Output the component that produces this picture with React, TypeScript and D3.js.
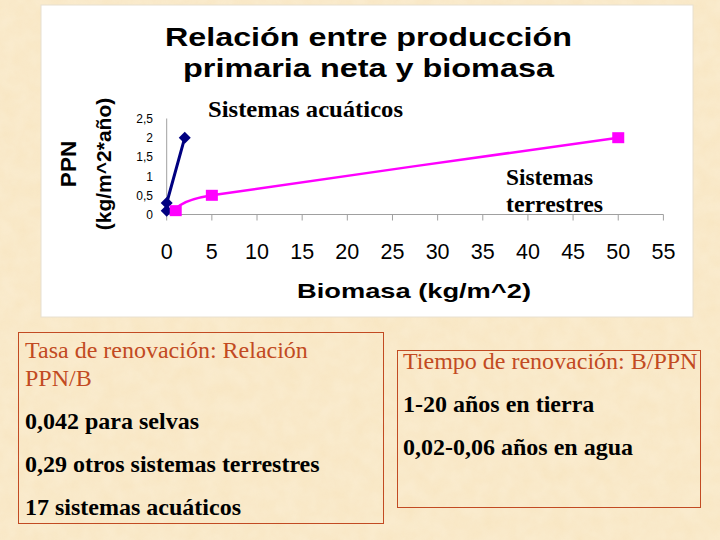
import React from "react";
import * as d3 from "d3";

const aquaticX = [0, 0, 2];
const aquaticY = [0.1, 0.3, 2];
const terrestrialX = [1, 5, 50];
const terrestrialY = [0.1, 0.5, 2];
const xTicks = [0, 5, 10, 15, 20, 25, 30, 35, 40, 45, 50, 55];
const yTicks = [0, 0.5, 1, 1.5, 2, 2.5];
const yTickLabels = ["0", "0,5", "1", "1,5", "2", "2,5"];
const titleLines = ["Relación entre producción", "primaria neta y biomasa"];
const leftBoxLines = ["Tasa de renovación: Relación", "PPN/B"];
const leftBoxItems = ["0,042 para selvas", "0,29 otros sistemas terrestres", "17 sistemas acuáticos"];
const rightBoxTitle = "Tiempo de renovación: B/PPN";
const rightBoxItems = ["1-20 años en tierra", "0,02-0,06 años en agua"];

export default function App() {
  const W = 720, H = 540;
  const x = d3.scaleLinear().domain([0, 55]).range([166.7, 663.4]);
  const y = d3.scaleLinear().domain([0, 2.5]).range([214.5, 118.5]);
  const aq = aquaticX.map((v, i) => [v, aquaticY[i]] as [number, number]);
  const te = terrestrialX.map((v, i) => [v, terrestrialY[i]] as [number, number]);
  const lineAq = d3.line<[number, number]>().x(d => x(d[0])).y(d => y(d[1]));
  const lineTe = d3.line<[number, number]>().x(d => x(d[0])).y(d => y(d[1])).curve(d3.curveCardinal.tension(0.5));
  const sans = "Liberation Sans, Arial, sans-serif";
  const serif = "Liberation Serif, Times New Roman, serif";
  const brown = "#c24a22";
  const titleWidths = [407, 371];
  return (
    <svg width={W} height={H} style={{ position: "absolute", left: 0, top: 0 }}>
      <defs>
        <filter id="paper">
          <feTurbulence type="fractalNoise" baseFrequency="0.06" numOctaves="3" seed="3" />
          <feColorMatrix type="matrix" values="0 0 0 0 1  0 0 0 0 0.96  0 0 0 0 0.88  0 0 0 0.5 0" />
        </filter>
      </defs>
      <rect x={0} y={0} width={W} height={H} fill="#f8e6c2" />
      <rect x={0} y={0} width={W} height={H} filter="url(#paper)" opacity={0.6} />
      {/* chart panel */}
      <rect x={41} y={5} width={652} height={312} fill="#ffffff" stroke="#e8e0d0" strokeWidth={1} />
      {titleLines.map((t, i) => (
        <text key={t} x={368.5} y={46 + i * 31} textAnchor="middle" fontFamily={sans} fontWeight="bold" fontSize={25}
          textLength={titleWidths[i]} lengthAdjust="spacingAndGlyphs" fill="#000">{t}</text>
      ))}
      {/* axes */}
      <line x1={x(0)} x2={x(0)} y1={y(2.5)} y2={y(0)} stroke="#a0a0a0" strokeWidth={1} />
      <line x1={x(0)} x2={x(55)} y1={y(0)} y2={y(0)} stroke="#a0a0a0" strokeWidth={1} />
      {xTicks.map(t => (
        <g key={t}>
          <line x1={x(t)} x2={x(t)} y1={y(0)} y2={y(0) + 6} stroke="#a0a0a0" strokeWidth={1} />
          <text x={x(t)} y={259} textAnchor="middle" fontFamily={sans} fontSize={21.5} fill="#000">{t}</text>
        </g>
      ))}
      {yTicks.map((t, i) => (
        <text key={t} x={153} y={y(t) + 4.5} textAnchor="end" fontFamily={sans} fontSize={12} fill="#000">{yTickLabels[i]}</text>
      ))}
      <text transform="translate(76,164) rotate(-90)" textAnchor="middle" fontFamily={sans} fontWeight="bold" fontSize={22.5}>PPN</text>
      <text transform="translate(111,164) rotate(-90)" textAnchor="middle" fontFamily={sans} fontWeight="bold" fontSize={21}>(kg/m^2*año)</text>
      <text x={414} y={298} textAnchor="middle" fontFamily={sans} fontWeight="bold" fontSize={21} textLength={234} lengthAdjust="spacingAndGlyphs">Biomasa (kg/m^2)</text>
      {/* series */}
      <path d={lineAq(aq) || ""} fill="none" stroke="#000080" strokeWidth={3} />
      <path d={lineTe(te) || ""} fill="none" stroke="#ff00ff" strokeWidth={2.5} />
      {aq.map((d, i) => (
        <path key={i} d="M0,-6L6,0L0,6L-6,0Z" transform={`translate(${x(d[0])},${y(d[1])})`} fill="#000080" />
      ))}
      {te.map((d, i) => (
        <rect key={i} x={x(d[0]) - 6} y={y(d[1]) - 5.5} width={12} height={11} fill="#ff00ff" />
      ))}
      <text x={208} y={116.5} fontFamily={serif} fontWeight="bold" fontSize={22.5} textLength={195} lengthAdjust="spacingAndGlyphs">Sistemas acuáticos</text>
      <text x={506} y={185} fontFamily={serif} fontWeight="bold" fontSize={22.5} textLength={87} lengthAdjust="spacingAndGlyphs">Sistemas</text>
      <text x={506} y={212} fontFamily={serif} fontWeight="bold" fontSize={22.5} textLength={97} lengthAdjust="spacingAndGlyphs">terrestres</text>
      {/* left box */}
      <rect x={18.5} y={332.5} width={365} height={191} fill="none" stroke={brown} strokeWidth={1} />
      {leftBoxLines.map((t, i) => (
        <text key={t} x={25} y={358 + i * 28} fontFamily={serif} fontSize={24} fill={brown}>{t}</text>
      ))}
      {leftBoxItems.map((t, i) => (
        <text key={t} x={25} y={429 + i * 43} fontFamily={serif} fontWeight="bold" fontSize={24} fill="#000">{t}</text>
      ))}
      {/* right box */}
      <rect x={397.5} y={350.5} width={303} height={157} fill="none" stroke={brown} strokeWidth={1} />
      <text x={403} y={369} fontFamily={serif} fontSize={24} fill={brown}>{rightBoxTitle}</text>
      {rightBoxItems.map((t, i) => (
        <text key={t} x={403} y={412 + i * 43} fontFamily={serif} fontWeight="bold" fontSize={24} fill="#000">{t}</text>
      ))}
    </svg>
  );
}
